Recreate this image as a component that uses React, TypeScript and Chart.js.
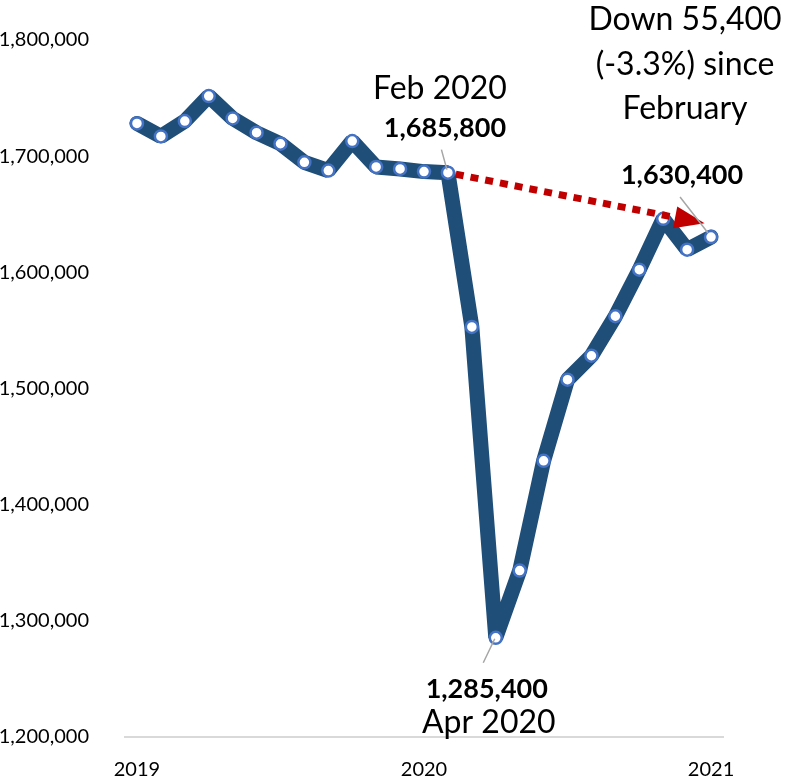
import React, { useEffect, useRef } from "react";
import { Chart, registerables } from "chart.js";

Chart.register(...registerables);

// ---- data ----
const months: string[] = [
  "Jan 2019", "Feb 2019", "Mar 2019", "Apr 2019", "May 2019", "Jun 2019",
  "Jul 2019", "Aug 2019", "Sep 2019", "Oct 2019", "Nov 2019", "Dec 2019",
  "Jan 2020", "Feb 2020", "Mar 2020", "Apr 2020", "May 2020", "Jun 2020",
  "Jul 2020", "Aug 2020", "Sep 2020", "Oct 2020", "Nov 2020", "Dec 2020",
  "Jan 2021",
];
const employment: number[] = [
  1728200, 1717000, 1730200, 1751700, 1732500, 1720200,
  1710700, 1694700, 1687600, 1713000, 1690700, 1689000,
  1686700, 1685800, 1553000, 1285400, 1343300, 1437700,
  1507600, 1528200, 1562200, 1602300, 1646100, 1619500,
  1630400,
];
const yMin = 1200000;
const yMax = 1800000;
const yStep = 100000;

// annotation anchors (category index, value)
const febIndex = 13;
const aprIndex = 15;
const lastIndex = 24;
const arrowStart = { index: 13, value: 1685800 };
const arrowEnd = { index: 23.73, value: 1642300 };

const LINE_BLUE = "#1F4E79";
const POINT_BLUE = "#4472C4";
const ARROW_RED = "#C00000";
const LEADER_GRAY = "#A6A6A6";
const FONT = "Lato, 'Open Sans', sans-serif";

const fmt = (v: number) => v.toLocaleString("en-US");

const annotationPlugin = {
  id: "annotations",
  afterDatasetsDraw(chart: any) {
    const { ctx, scales } = chart;
    const x = scales.x;
    const y = scales.y;
    const px = (i: number) => x.getPixelForValue(i);
    const py = (v: number) => y.getPixelForValue(v);

    ctx.save();

    // red dotted arrow
    const sx = px(arrowStart.index);
    const sy = py(arrowStart.value);
    const ex = px(arrowEnd.index);
    const ey = py(arrowEnd.value);
    const dx = ex - sx;
    const dy = ey - sy;
    const len = Math.hypot(dx, dy);
    const ux = dx / len;
    const uy = dy / len;
    const headLen = 30;
    const headHalf = 11;
    const startOff = 8;
    ctx.strokeStyle = ARROW_RED;
    ctx.lineWidth = 7;
    ctx.lineCap = "butt";
    ctx.setLineDash([8, 7]);
    ctx.beginPath();
    ctx.moveTo(sx + ux * startOff, sy + uy * startOff);
    ctx.lineTo(ex - ux * headLen, ey - uy * headLen);
    ctx.stroke();
    ctx.setLineDash([]);
    const bx = ex - ux * headLen;
    const by = ey - uy * headLen;
    ctx.fillStyle = ARROW_RED;
    ctx.beginPath();
    ctx.moveTo(ex, ey);
    ctx.lineTo(bx - uy * headHalf, by + ux * headHalf);
    ctx.lineTo(bx + uy * headHalf, by - ux * headHalf);
    ctx.closePath();
    ctx.fill();

    // leader lines
    const fx = px(febIndex), fy = py(employment[febIndex]);
    const ax = px(aprIndex), ay = py(employment[aprIndex]);
    const lx = px(lastIndex), ly = py(employment[lastIndex]);
    ctx.strokeStyle = LEADER_GRAY;
    ctx.lineWidth = 1.5;
    ctx.beginPath();
    ctx.moveTo(fx - 6.5, fy - 23);
    ctx.lineTo(fx - 1, fy - 3);
    ctx.moveTo(lx - 31, ly - 40);
    ctx.lineTo(lx - 3, ly - 4);
    ctx.moveTo(ax - 1, ay + 1);
    ctx.lineTo(ax - 12.5, ay + 25);
    ctx.stroke();

    // texts
    ctx.fillStyle = "#000";
    ctx.textAlign = "center";
    ctx.textBaseline = "alphabetic";
    const reg = `32px ${FONT}`;
    const bold = `bold 27px ${FONT}`;

    ctx.font = reg;
    ctx.fillText("Feb 2020", fx - 8, fy - 74);
    ctx.font = bold;
    ctx.fillText(fmt(employment[febIndex]), fx - 3, fy - 36);

    ctx.font = bold;
    ctx.fillText(fmt(employment[lastIndex]), lx - 29, ly - 53);
    ctx.font = reg;
    ctx.fillText("Down 55,400", lx - 26, ly - 207);
    ctx.fillText("(-3.3%) since", lx - 26, ly - 162.5);
    ctx.fillText("February", lx - 26, ly - 118);

    ctx.font = bold;
    ctx.fillText(fmt(employment[aprIndex]), ax - 9, ay + 60);
    ctx.font = reg;
    ctx.fillText("Apr 2020", ax - 7, ay + 95);

    ctx.restore();
  },
};

export default function App() {
  const canvasRef = useRef<HTMLCanvasElement | null>(null);

  useEffect(() => {
    document.body.style.margin = "0";
    const canvas = canvasRef.current;
    if (!canvas) return;
    const chart = new Chart(canvas, {
      type: "line",
      data: {
        labels: months,
        datasets: [
          {
            data: employment,
            borderColor: LINE_BLUE,
            borderWidth: 15,
            borderJoinStyle: "bevel",
            borderCapStyle: "round",
            tension: 0,
            pointRadius: 6,
            pointBorderWidth: 2.5,
            pointBackgroundColor: "#FFFFFF",
            pointBorderColor: POINT_BLUE,
            fill: false,
          },
        ],
      },
      options: {
        responsive: false,
        animation: false,
        events: [],
        layout: { padding: { top: 38, right: 63, left: 0, bottom: 0 } },
        plugins: {
          legend: { display: false },
          tooltip: { enabled: false },
          title: { display: false },
        },
        scales: {
          x: {
            type: "category",
            offset: true,
            grid: { display: false },
            border: { display: true, color: "#D9D9D9", width: 2 },
            ticks: {
              autoSkip: false,
              maxRotation: 0,
              minRotation: 0,
              padding: 13,
              color: "#000",
              font: { family: FONT, size: 20 },
              callback: (_v: any, i: number) =>
                months[i].startsWith("Jan") ? months[i].slice(4) : "",
            },
            afterFit: (s: any) => {
              s.height = 44;
            },
          },
          y: {
            min: yMin,
            max: yMax,
            grid: { display: false },
            border: { display: false },
            ticks: {
              stepSize: yStep,
              padding: 28,
              color: "#000",
              font: { family: FONT, size: 20 },
              callback: (v: any) => fmt(Number(v)),
            },
            afterFit: (s: any) => {
              s.width = 125;
            },
          },
        },
      },
      plugins: [annotationPlugin],
    });
    return () => chart.destroy();
  }, []);

  return (
    <div style={{ width: 786, height: 781 }}>
      <canvas ref={canvasRef} width={786} height={781} />
    </div>
  );
}
